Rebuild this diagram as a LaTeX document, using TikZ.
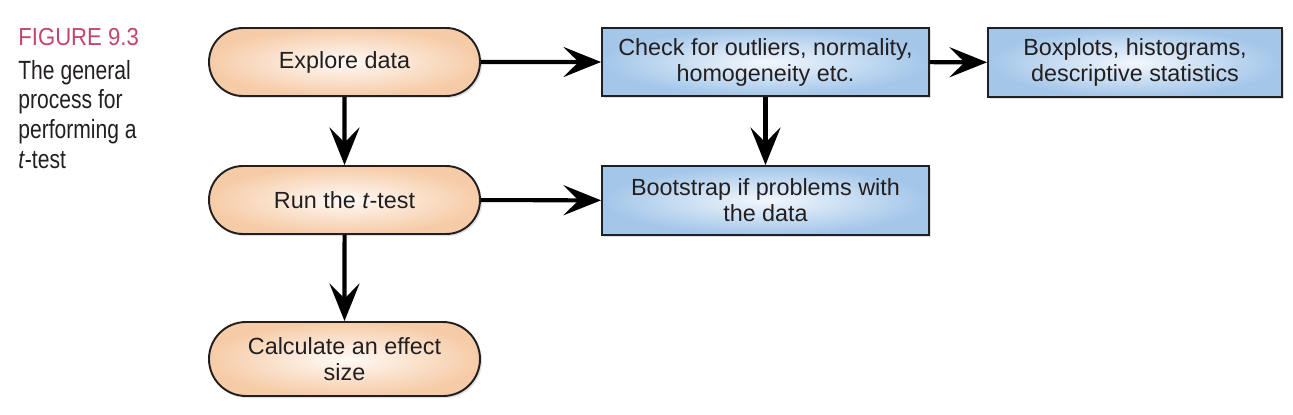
\documentclass[tikz,border=0pt]{standalone}
\usepackage{fontspec}
\setmainfont{Liberation Sans}
\newfontfamily\capfont[FakeStretch=0.8]{Liberation Sans}
\newfontfamily\figfont[FakeStretch=0.9]{Liberation Sans}
\usetikzlibrary{shapes.misc,arrows.meta,shadows}

\definecolor{figred}{HTML}{C4456C}
\definecolor{inkgray}{HTML}{231F20}
\definecolor{peachout}{HTML}{F6CCA8}
\definecolor{peachin}{HTML}{FFFAF6}
\definecolor{blueout}{HTML}{A3C6E9}
\definecolor{bluein}{HTML}{F2F7FD}

\begin{document}
\begin{tikzpicture}[
    every node/.style={text=inkgray, font=\fontsize{13.3}{14.8}\selectfont, align=center},
    stadium/.style={rounded rectangle, draw=inkgray, line width=1.1pt,
        minimum width=5.42cm, minimum height=1.36cm, inner sep=0pt,
        inner color=peachin, outer color=peachout,
        drop shadow={opacity=0.25, shadow xshift=0.4mm, shadow yshift=-0.4mm}},
    checkbox/.style={rectangle, draw=inkgray, line width=1.1pt,
        minimum width=6.54cm, minimum height=1.36cm, inner sep=0pt,
        inner color=bluein, outer color=blueout,
        drop shadow={opacity=0.25, shadow xshift=0.4mm, shadow yshift=-0.4mm}},
    flow/.style={draw=black, line width=2.3pt,
        -{Stealth[length=7.5mm, width=6mm, inset=3mm]}}
  ]
    \useasboundingbox (0,0) rectangle (25.86,-8.28);

    %%%%%%%%%%%%%%%%%%%% caption
    \node[anchor=base west, inner sep=0pt, text=figred,
          font=\figfont\fontsize{14}{16}\selectfont] (figlabel) at (0.36,-0.90) {FIGURE 9.3};
    \node[anchor=base west, inner sep=0pt, align=left,
          font=\capfont\fontsize{15}{16.8}\selectfont] (figcaption) at (0.36,-3.36)
          {The general\\process for\\performing a\\\textit{t}-test};

    %%%%%%%%%%%%%%%%%%%% left column
    \node[stadium] (explore) at (6.89,-1.24) {Explore data};
    \node[stadium] (runtest) at (6.89,-4.00) {Run the \textit{t}-test};
    \node[stadium, minimum height=1.48cm] (effect) at (6.89,-7.18)
          {Calculate an effect\\size};

    %%%%%%%%%%%%%%%%%%%% right boxes
    \node[checkbox] (check) at (15.31,-1.24)
          {Check for outliers, normality,\\homogeneity etc.};
    \node[checkbox, minimum width=5.88cm, minimum height=1.38cm] (boxplots) at (22.70,-1.25)
          {Boxplots, histograms,\\descriptive statistics};
    \node[checkbox, minimum height=1.38cm] (bootstrap) at (15.31,-4.01)
          {Bootstrap if problems with\\the data};

    %%%%%%%%%%%%%%%%%%%% arrows
    \draw[flow] (explore) -- (check);
    \draw[flow] (check) -- (boxplots);
    \draw[flow] (explore) -- (runtest);
    \draw[flow] (check) -- (bootstrap);
    \draw[flow] (runtest) -- (bootstrap);
    \draw[flow] (runtest) -- (effect);
\end{tikzpicture}
\end{document}
